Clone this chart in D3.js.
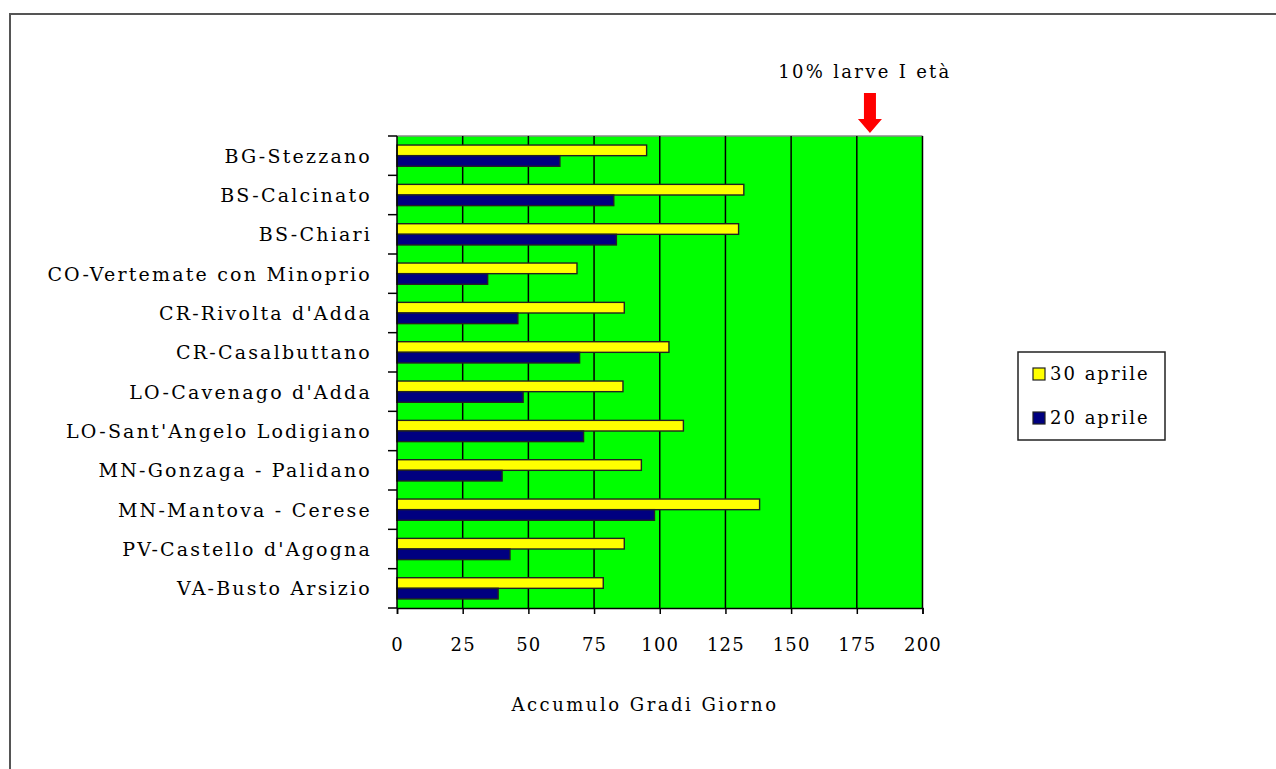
<!DOCTYPE html>
<html>
<head>
<meta charset="utf-8">
<script src="https://cdn.jsdelivr.net/npm/d3@7"></script>
<style>
  body { margin: 0; background: #fff; }
  text { font-family: "DejaVu Serif", serif; fill: #000; }
</style>
</head>
<body>
<svg id="chart" width="1276" height="769"></svg>
<script>
// stazioni, dall'alto verso il basso
var stazioni = ["BG-Stezzano", "BS-Calcinato", "BS-Chiari", "CO-Vertemate con Minoprio",
  "CR-Rivolta d'Adda", "CR-Casalbuttano", "LO-Cavenago d'Adda", "LO-Sant'Angelo Lodigiano",
  "MN-Gonzaga - Palidano", "MN-Mantova - Cerese", "PV-Castello d'Agogna", "VA-Busto Arsizio"];
var serie = ["30 aprile", "20 aprile"];
var valori30 = [95, 132, 130, 68.5, 86.5, 103.5, 86, 109, 93, 138, 86.5, 78.5];
var valori20 = [62, 82.5, 83.5, 34.5, 46, 69.5, 48, 71, 40, 98, 43, 38.5];
var ticksX = [0, 25, 50, 75, 100, 125, 150, 175, 200];
var soglia = 180;
var colori = { "30 aprile": "#ffff00", "20 aprile": "#000080" };

var svg = d3.select("#chart");

// cornice
svg.append("rect")
  .attr("x", 10).attr("y", 14)
  .attr("width", 1300).attr("height", 800)
  .attr("fill", "none")
  .attr("stroke", "#555")
  .attr("stroke-width", 2);

var mLeft = 397, mTop = 136, w = 525.5, h = 472;

var x = d3.scaleLinear().domain([0, 200]).range([mLeft, mLeft + w]);
var y = d3.scaleBand().domain(stazioni).range([mTop, mTop + h]);
var ySub = d3.scaleBand().domain(serie).range([0, y.bandwidth()]).paddingOuter(0.85).paddingInner(0);

// area del grafico
svg.append("rect")
  .attr("x", mLeft).attr("y", mTop)
  .attr("width", w).attr("height", h)
  .attr("fill", "#00ff00");
svg.append("line")
  .attr("x1", mLeft).attr("x2", mLeft + w)
  .attr("y1", mTop).attr("y2", mTop)
  .attr("stroke", "#888").attr("stroke-width", 1.5);

// griglia verticale
svg.append("g").selectAll("line")
  .data(ticksX.slice(1))
  .join("line")
  .attr("x1", d => x(d)).attr("x2", d => x(d))
  .attr("y1", mTop).attr("y2", mTop + h)
  .attr("stroke", "#000")
  .attr("stroke-width", 1.5);

// barre
var gruppi = svg.append("g").selectAll("g")
  .data(stazioni)
  .join("g")
  .attr("transform", d => "translate(0," + y(d) + ")");

gruppi.selectAll("rect")
  .data((d, i) => [{ s: "30 aprile", v: valori30[i] }, { s: "20 aprile", v: valori20[i] }])
  .join("rect")
  .attr("x", x(0))
  .attr("y", d => ySub(d.s))
  .attr("width", d => x(d.v) - x(0))
  .attr("height", ySub.bandwidth())
  .attr("fill", d => colori[d.s])
  .attr("stroke", "#222")
  .attr("stroke-width", 1.4);

// asse Y con tacche tra le categorie
svg.append("line")
  .attr("x1", mLeft).attr("x2", mLeft)
  .attr("y1", mTop).attr("y2", mTop + h)
  .attr("stroke", "#000").attr("stroke-width", 1.5);
svg.append("g").selectAll("line")
  .data(d3.range(stazioni.length + 1))
  .join("line")
  .attr("x1", mLeft - 9).attr("x2", mLeft)
  .attr("y1", i => mTop + i * y.step())
  .attr("y2", i => mTop + i * y.step())
  .attr("stroke", "#000").attr("stroke-width", 1.5);

svg.append("g").selectAll("text")
  .data(stazioni)
  .join("text")
  .attr("x", 372)
  .attr("y", d => y(d) + y.bandwidth() / 2)
  .attr("dy", "0.36em")
  .attr("text-anchor", "end")
  .attr("font-size", 19)
  .attr("letter-spacing", "2.2px")
  .text(d => d);

// asse X
var assex = svg.append("g")
  .attr("transform", "translate(0," + (mTop + h) + ")")
  .call(d3.axisBottom(x).tickValues(ticksX).tickSize(6).tickPadding(24));
assex.select(".domain").attr("stroke", "#000").attr("stroke-width", 1.5);
assex.selectAll(".tick line").attr("stroke", "#000").attr("stroke-width", 1.5);
assex.selectAll(".tick text")
  .attr("font-family", "DejaVu Serif")
  .attr("font-size", 18)
  .attr("letter-spacing", "1.2px")
  .attr("fill", "#000");

svg.append("text")
  .attr("x", 645).attr("y", 711)
  .attr("text-anchor", "middle")
  .attr("font-size", 18)
  .attr("letter-spacing", "2.5px")
  .text("Accumulo Gradi Giorno");

// annotazione soglia
svg.append("text")
  .attr("x", 865).attr("y", 78)
  .attr("text-anchor", "middle")
  .attr("font-size", 18)
  .attr("letter-spacing", "2.3px")
  .text("10% larve I età");

var ax = x(soglia);
svg.append("path")
  .attr("d", "M" + (ax - 6) + ",93 L" + (ax + 6) + ",93 L" + (ax + 6) + ",119 L" + (ax + 12) + ",119 L" + ax + ",133 L" + (ax - 12) + ",119 L" + (ax - 6) + ",119 Z")
  .attr("fill", "#ff0000");

// legenda
var leg = svg.append("g").attr("transform", "translate(1018,352)");
leg.append("rect")
  .attr("width", 147).attr("height", 88)
  .attr("fill", "#fff")
  .attr("stroke", "#222").attr("stroke-width", 1.5);
var voci = leg.selectAll("g")
  .data(serie)
  .join("g")
  .attr("transform", (d, i) => "translate(15," + (22 + i * 44) + ")");
voci.append("rect")
  .attr("x", 0).attr("y", -6)
  .attr("width", 12).attr("height", 12)
  .attr("fill", d => colori[d])
  .attr("stroke", "#222").attr("stroke-width", 1.2);
voci.append("text")
  .attr("x", 17).attr("dy", "0.36em")
  .attr("font-size", 18)
  .attr("letter-spacing", "2px")
  .text(d => d);
</script>
</body>
</html>
